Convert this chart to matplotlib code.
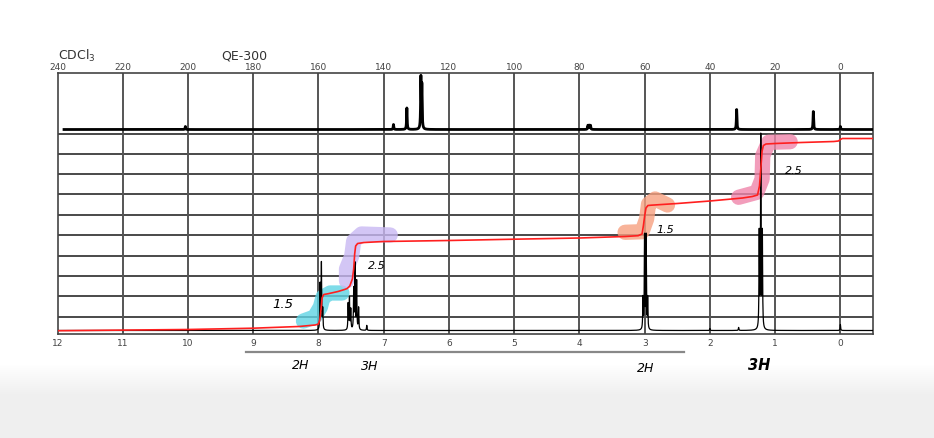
import numpy as np
import matplotlib.pyplot as plt

# ---------------- 1H peaks (ppm, height above baseline) ----------------
h_ppm = [7.975, 7.955, 7.935, 7.545, 7.525, 7.505, 7.46, 7.44, 7.415, 7.385, 7.26,
         3.026, 3.002, 2.978, 2.954, 2.0, 1.56, 1.244, 1.22, 1.196, 0.0]
h_height = [45, 66, 20, 26, 31, 20, 40, 65, 48, 22, 5,
            31, 93, 93, 31, 2, 3, 95, 191, 95, 6]

# ---------------- 13C peaks (ppm, height) ----------------
c_ppm = [200.8, 137.0, 132.9, 128.6, 128.3, 77.4, 77.0, 76.6, 31.8, 8.3, 0.0]
c_height = [3, 5, 21.5, 50, 42, 4, 4, 4, 20, 18, 3]

# ---------------- integral curve (ppm, height) ----------------
integral_ppm = [12.0, 10.0, 9.0, 8.3, 8.05, 8.0, 7.98, 7.96, 7.945, 7.92, 7.85, 7.7, 7.6,
                7.56, 7.52, 7.48, 7.46, 7.445, 7.43, 7.40, 7.3, 7.0, 6.0, 5.0, 4.0, 3.3, 3.1,
                3.04, 3.02, 3.0, 2.98, 2.95, 2.9, 2.5, 2.0, 1.5, 1.35, 1.27, 1.24, 1.22, 1.20,
                1.18, 1.14, 1.0, 0.6, 0.1, 0.03, 0.0, -0.03, -0.5]
integral_y = [3.3, 4.5, 5.8, 7.5, 9, 10, 14, 25, 36, 39.5, 40.3, 42.5, 44.5,
              45.5, 48, 55, 65, 80, 88, 90.5, 91.5, 92.5, 93.5, 94.8, 96, 97.5, 98.3,
              100, 108, 118, 126, 128.5, 128.8, 130.5, 133, 136, 137.5, 139, 148, 165, 183,
              188.5, 190, 190.5, 191.5, 192.5, 193, 194.5, 195.5, 195.5]

# grid lines
grid_y = [17.5, 37.7, 58, 78.3, 99, 119.3, 139.7, 160, 180, 200.5]
h_ticks = list(range(12, -1, -1))
c_ticks = list(range(240, -1, -20))

# highlighter strokes
hl_cyan = ([8.23, 8.06, 7.97, 7.93, 7.82, 7.64], [13, 17, 27, 37, 41, 41])
hl_purple = ([7.57, 7.57, 7.49, 7.46, 7.34, 6.90], [53, 65, 78, 93, 100, 99])
hl_orange = ([3.30, 3.04, 2.97, 2.94, 2.84, 2.65], [101.7, 102.3, 115, 130, 135, 129])
hl_pink = ([1.56, 1.28, 1.20, 1.19, 1.10, 0.77], [136.7, 141.7, 155, 178.3, 191.7, 192.3])

fig = plt.figure(figsize=(9.34, 4.39), dpi=100)

# light grey bottom of the screenshot
bg = fig.add_axes([0, 0, 1, 1], zorder=-5)
grad = np.ones((439, 2, 3))
rows = np.arange(439)
shade = np.clip((rows - 365) / 30.0, 0, 1) * 0.06
grad[:, :, :] = (1 - shade)[:, None, None]
bg.imshow(grad, aspect='auto', extent=[0, 1, 0, 1], origin='upper')
bg.axis('off')

ax = fig.add_axes([57.5 / 934, (439 - 335) / 439, (873 - 57.5) / 934, (335 - 74) / 439])
ax.set_xlim(12, -0.5)
ax.set_ylim(0, 261)

ax.hlines(grid_y, 12, -0.5, color='#2a2a2a', lw=1.2, zorder=1)
ax.vlines(h_ticks[1:], 0, 261, color='#555555', lw=1.4, zorder=1)

# highlighter
for (xs, ys), col in [(hl_cyan, '#5fd4e4'), (hl_purple, '#c9b8f3'),
                      (hl_orange, '#f7a080'), (hl_pink, '#ef85aa')]:
    ax.plot(xs, ys, color=col, lw=11, alpha=0.8, solid_capstyle='round',
            solid_joinstyle='round', zorder=2)

# 1H spectrum
x = np.linspace(12, -0.5, 30000)
base_h = 3.5
spec = np.full_like(x, base_h)
w = 0.0045
for p, hgt in zip(h_ppm, h_height):
    spec += hgt * w**2 / ((x - p)**2 + w**2)
ax.plot(x, spec, color='black', lw=0.9, zorder=3)

# 13C spectrum (drawn on same frame, 20 ppm C = 1 grid column)
xc = np.linspace(11.9, -0.5, 30000)
base_c = 204.5
cspec = np.full_like(xc, base_c)
wc = 0.005
for p, hgt in zip(c_ppm, c_height):
    cspec += hgt * wc**2 / ((xc - p / 20)**2 + wc**2)
ax.plot(xc, cspec, color='black', lw=2.0, zorder=3)

# integral
ax.plot(integral_ppm, integral_y, color='#ff1f1f', lw=1.2, zorder=4)

for s in ax.spines.values():
    s.set_color('#444444')
    s.set_linewidth(1.2)
ax.set_yticks([])
ax.set_xticks(h_ticks)
ax.set_xticklabels([str(t) for t in h_ticks])
ax.tick_params(axis='x', length=0, pad=3, labelsize=6.5, labelcolor='#444444')

sec = ax.secondary_xaxis('top', functions=(lambda v: v * 20, lambda v: v / 20))
sec.set_xticks(c_ticks)
sec.set_xticklabels([str(t) for t in c_ticks])
sec.tick_params(length=0, pad=1.5, labelsize=6.5, labelcolor='#444444')
sec.spines['top'].set_visible(False)

fig.text(58 / 934, 1 - 56 / 439, 'CDCl$_3$', fontsize=9, color='#333333', va='center')
fig.text(244 / 934, 1 - 56 / 439, 'QE-300', fontsize=9, color='#333333', va='center', ha='center')

# handwritten notes
hand = dict(color='black', ha='center', va='center', style='italic', clip_on=False)
ax.text(8.54, 31, '1.5', fontsize=9.5, **hand)
ax.text(7.11, 69, '2.5', fontsize=8, **hand)
ax.text(2.69, 105, '1.5', fontsize=8, **hand)
ax.text(0.71, 164, '2.5', fontsize=8, **hand)
ax.text(8.28, -31, '2H', fontsize=9, **hand)
ax.text(7.21, -32, '3H', fontsize=9, **hand)
ax.text(2.99, -34, '2H', fontsize=9, **hand)
ax.text(1.25, -31, '3H', fontsize=10.5, fontweight='bold', **hand)
ax.plot([9.11, 2.39], [-18, -18], color='#888888', lw=1.6, clip_on=False)

fig.savefig('out.png', dpi=100)
